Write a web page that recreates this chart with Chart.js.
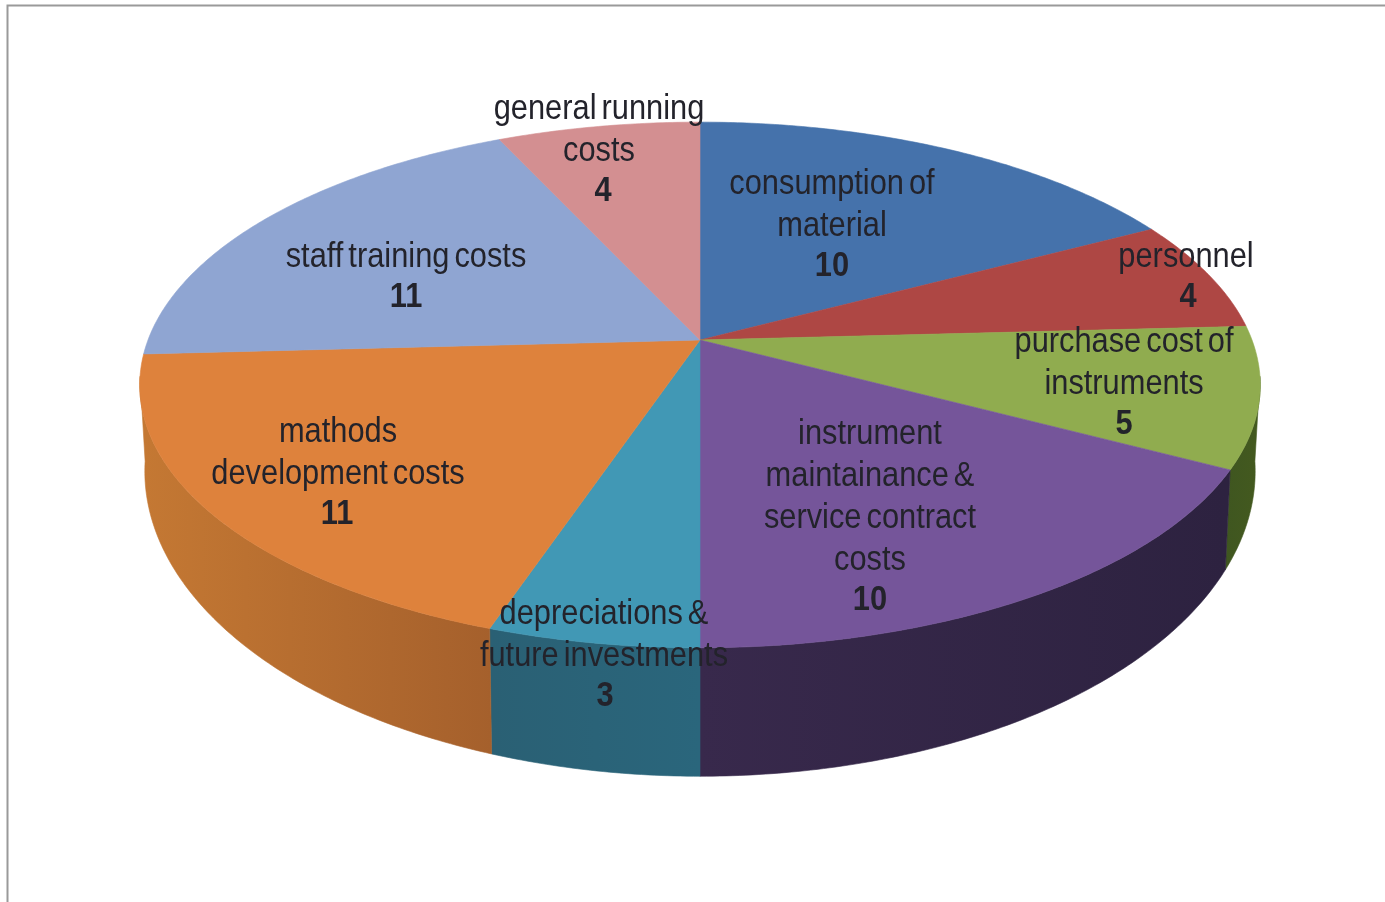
<!DOCTYPE html>
<html>
<head>
<meta charset="utf-8">
<title>Cost breakdown</title>
<script src="https://cdn.jsdelivr.net/npm/chart.js@4/dist/chart.umd.min.js"></script>
<style>
  html, body { margin: 0; padding: 0; background: #fff; overflow: hidden; }
  canvas { display: block; filter: blur(0.6px); }
</style>
</head>
<body>
<canvas id="pie" width="1385" height="902"></canvas>
<script>
// --- Data ---
const categories = [
  ['consumption of', 'material'],
  ['personnel'],
  ['purchase cost of', 'instruments'],
  ['instrument', 'maintainance &', 'service contract', 'costs'],
  ['depreciations &', 'future investments'],
  ['mathods', 'development costs'],
  ['staff training costs'],
  ['general running', 'costs']
];
const values = [10, 4, 5, 10, 3, 11, 11, 4];

// --- Styles ---
const topColors = ['#4572ab', '#ae4744', '#90ac4f', '#75559a', '#4198b5', '#de823c', '#8fa5d2', '#d38f91'];
// wall shades, left end then right end on screen
const wallColors = [
  ['#2c4a70', '#2c4a70'], ['#722e2c', '#722e2c'], ['#3f5620', '#43591f'], ['#38294c', '#2d2240'],
  ['#2a6074', '#2a667c'], ['#c47833', '#a5602c'], ['#5d6b8a', '#5d6b8a'], ['#8a5d5e', '#8a5d5e']
];
// centre x and first line y of each label, centre x of its value
const labelX = [832, 1186, 1124, 870, 604, 338, 406, 599];
const labelY = [184, 257, 342, 434, 614, 432, 257, 109];
const valueX = [832, 1188, 1124, 870, 605, 337, 406, 603];

// --- Perspective of the tilted pie, upper disc and lower rim ---
const upper = { cx: 700, cy: 340, bx: 552, ay: 197, k: 0.171 };
const lower = { cx: 700, cy: 419, bx: 547, ay: 224.5, k: 0.171 };
const wallFrom = 98 * Math.PI / 180, wallTo = 262 * Math.PI / 180;

function project(theta, disc) {
  const u = Math.sin(theta), v = -Math.cos(theta);
  const w = 1 - disc.k * v;
  return { x: disc.cx + disc.bx * u / w, y: (disc.cy + disc.ay * v) / w };
}

function traceArc(ctx, from, to, disc, first) {
  const steps = Math.max(2, Math.ceil(Math.abs(to - from) / 0.01));
  for (let i = 0; i <= steps; i++) {
    const p = project(from + (to - from) * i / steps, disc);
    if (i === 0 && first) ctx.moveTo(p.x, p.y); else ctx.lineTo(p.x, p.y);
  }
}

// Chart.js works out the slice angles, this plugin lays them on the tilted disc
const tiltedPie = {
  id: 'tiltedPie',
  beforeDraw(chart) {
    const ctx = chart.ctx;
    ctx.save();
    ctx.strokeStyle = '#9a9a9a';
    ctx.lineWidth = 2;
    ctx.strokeRect(7.5, 5.5, 1500, 1000);
    ctx.restore();
  },
  beforeDatasetsDraw(chart) {
    const ctx = chart.ctx;
    const arcs = chart.getDatasetMeta(0).data.map(a => {
      const p = a.getProps(['startAngle', 'endAngle'], true);
      return { from: p.startAngle + Math.PI / 2, to: p.endAngle + Math.PI / 2 };
    });
    ctx.save();

    // side wall, visible part only
    arcs.forEach((arc, i) => {
      const from = Math.max(arc.from, wallFrom), to = Math.min(arc.to, wallTo);
      if (to <= from) return;
      const right = project(from, lower), left = project(to, lower);
      const grad = ctx.createLinearGradient(left.x, 0, right.x, 0);
      grad.addColorStop(0, wallColors[i][0]);
      grad.addColorStop(1, wallColors[i][1]);
      ctx.beginPath();
      traceArc(ctx, from, to, upper, true);
      traceArc(ctx, to, from, lower, false);
      ctx.closePath();
      ctx.fillStyle = grad;
      ctx.strokeStyle = grad;
      ctx.lineWidth = 0.6;
      ctx.fill();
      ctx.stroke();
    });

    // top surface
    arcs.forEach((arc, i) => {
      ctx.beginPath();
      ctx.moveTo(upper.cx, upper.cy);
      traceArc(ctx, arc.from, arc.to, upper, false);
      ctx.closePath();
      ctx.fillStyle = topColors[i];
      ctx.strokeStyle = topColors[i];
      ctx.lineWidth = 0.6;
      ctx.fill();
      ctx.stroke();
    });

    // labels
    ctx.textAlign = 'center';
    ctx.textBaseline = 'middle';
    ctx.fillStyle = '#23232b';
    ctx.wordSpacing = '-4px';
    categories.forEach((lines, i) => {
      let y = labelY[i];
      lines.forEach(line => {
        ctx.save();
        ctx.translate(labelX[i], y);
        ctx.scale(0.88, 1);
        ctx.font = '35px "Liberation Sans", Arial, sans-serif';
        ctx.fillText(line, 0, 0);
        ctx.restore();
        y += 42;
      });
      ctx.save();
      ctx.translate(valueX[i], y - 2);
      ctx.scale(0.88, 1);
      ctx.font = 'bold 35px "Liberation Sans", Arial, sans-serif';
      ctx.fillText(String(values[i]), 0, 0);
      ctx.restore();
    });

    ctx.restore();
    return false;
  }
};

new Chart(document.getElementById('pie'), {
  type: 'pie',
  data: {
    labels: categories.map(c => c.join(' ')),
    datasets: [{ data: values, backgroundColor: topColors }]
  },
  options: {
    responsive: false,
    animation: false,
    plugins: { legend: { display: false }, tooltip: { enabled: false } }
  },
  plugins: [tiltedPie]
});
</script>
</body>
</html>
